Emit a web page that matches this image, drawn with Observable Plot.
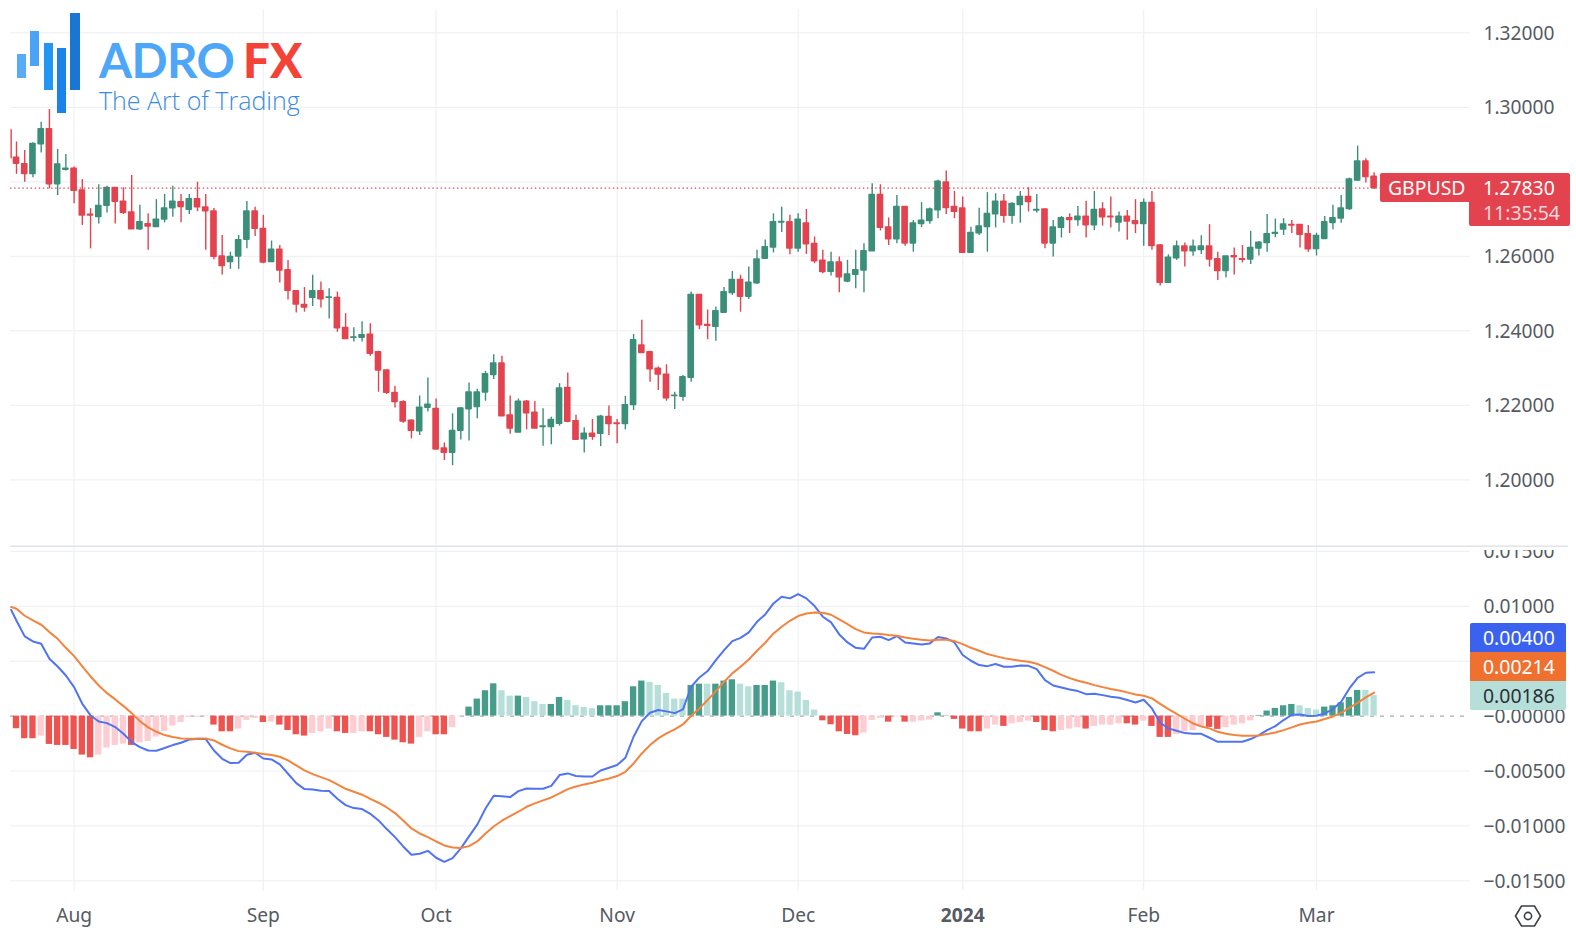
<!DOCTYPE html>
<html><head><meta charset="utf-8">
<script src="https://cdn.jsdelivr.net/npm/d3@7"></script>
<script src="https://cdn.jsdelivr.net/npm/@observablehq/plot@0.6"></script>
<style>
html,body{margin:0;padding:0;background:#fff;overflow:hidden}
#page{position:relative;width:1576px;height:940px;overflow:hidden;font-family:'Noto Sans',sans-serif}
#top,#bottom{position:absolute;left:0}
#top{top:0}#bottom{top:550px}
svg{display:block}
.ov{position:absolute}
.tag{position:absolute;font-size:19.4px;line-height:1;white-space:nowrap}
</style></head><body>
<div id="page"><div id="top"></div><div id="bottom"></div><div id="over"></div></div>
<script>
// GBPUSD daily, prices as 0.0001 units above 1.2000..
const opens=[865,848,820,900,942,793,832,836,777,712,705,735,784,747,718,672,687,678,698,728,746,724,754,732,721,600,584,599,644,721,674,584,618,563,507,470,488,507,488,489,408,381,381,390,343,294,234,209,159,130,193,191,85,72,131,189,195,234,281,313,173,126,210,181,141,141,150,247,158,108,124,123,169,152,149,200,361,343,299,283,224,222,273,497,416,410,448,501,537,491,527,593,623,690,692,620,689,634,589,558,584,532,550,561,613,765,678,645,733,634,686,694,723,799,733,729,609,661,678,712,747,708,737,760,722,726,634,676,703,697,707,683,726,707,690,707,695,686,744,630,528,594,627,613,616,627,593,560,601,593,591,620,635,660,671,685,685,660,619,646,689,701,726,803,855,814];
const closes=[848,820,902,942,793,847,836,775,709,709,736,784,746,716,672,692,679,699,729,747,732,754,731,720,598,573,599,644,721,673,583,618,561,507,470,462,507,484,490,406,377,383,389,338,293,233,208,156,131,194,202,81,72,132,192,235,235,284,313,170,137,210,178,137,144,161,246,155,107,124,115,170,149,149,201,375,340,296,282,218,226,276,497,414,413,453,504,537,491,530,592,625,692,693,620,699,632,586,557,584,543,552,563,614,765,676,645,733,634,689,696,726,801,729,719,609,663,681,714,747,708,741,760,745,725,634,678,703,697,707,683,725,704,704,707,693,686,744,627,528,597,627,613,626,627,591,560,600,597,590,623,637,660,663,686,682,657,618,655,692,703,729,807,855,812,783];
const highs=[907,884,905,960,994,887,873,840,806,728,792,788,784,784,817,737,714,752,766,788,766,766,799,766,728,656,611,656,747,732,710,641,629,589,507,516,549,531,513,504,446,408,424,419,345,295,251,212,161,225,273,217,99,177,194,260,243,291,336,332,225,217,213,210,191,168,258,287,173,140,162,173,198,162,224,390,428,345,303,309,235,280,504,497,456,464,516,559,549,571,616,644,714,732,710,714,726,652,616,611,598,589,616,634,795,792,703,763,733,696,744,730,804,829,774,759,678,729,771,768,766,744,774,784,766,726,696,707,714,734,748,774,744,759,719,723,752,754,774,632,604,641,636,644,655,685,611,600,622,629,667,640,712,700,701,696,685,683,662,707,737,763,810,896,862,824];
const lows=[820,799,811,877,781,763,829,741,683,620,687,716,687,712,672,669,616,677,690,705,690,712,720,616,591,550,565,565,620,653,580,583,528,483,448,450,465,461,432,396,377,370,370,332,235,229,193,152,110,119,182,81,52,38,107,104,164,211,269,170,122,126,134,137,90,94,144,153,107,72,106,89,119,97,134,186,340,262,240,211,189,211,262,403,376,372,448,495,450,484,524,592,609,664,604,611,605,580,553,547,502,529,513,502,613,668,629,634,627,611,677,686,701,712,701,609,609,656,611,676,689,686,689,719,716,620,598,649,661,681,649,669,681,676,665,643,661,627,616,520,528,589,571,600,605,571,535,542,550,582,578,601,611,650,656,661,622,611,601,645,671,689,723,801,797,779];
// partial first bar at the left crop edge (wick only)
const cropIndex=-0.65, cropHigh=940, cropLow=862;

// MACD pane, values in 0.00001 units
const macd=[868,726,680,659,522,452,370,264,112,6,-49,-64,-100,-161,-237,-282,-313,-316,-291,-264,-243,-213,-206,-209,-313,-389,-428,-425,-352,-334,-386,-395,-440,-525,-610,-665,-668,-680,-683,-753,-811,-838,-847,-890,-950,-1029,-1102,-1187,-1263,-1254,-1227,-1290,-1327,-1293,-1205,-1096,-988,-841,-726,-729,-738,-683,-659,-662,-662,-635,-537,-522,-546,-550,-550,-495,-471,-446,-380,-188,-46,30,55,43,27,61,267,352,410,510,601,683,713,762,859,926,1026,1087,1072,1111,1072,1002,905,853,744,671,622,613,716,723,692,729,671,662,653,662,720,707,671,556,504,465,455,474,449,449,461,458,428,328,279,261,243,228,200,203,191,176,167,146,124,149,70,-61,-112,-134,-155,-161,-161,-197,-234,-234,-234,-234,-209,-173,-128,-91,-36,12,15,0,3,24,64,131,252,349,395,400];
const signal=[978,914,871,832,765,704,622,546,452,361,279,209,152,91,27,-46,-103,-143,-173,-191,-203,-206,-206,-203,-222,-261,-294,-319,-325,-334,-346,-355,-370,-404,-449,-495,-528,-556,-583,-622,-662,-689,-716,-753,-789,-832,-883,-950,-1023,-1069,-1102,-1142,-1178,-1196,-1202,-1184,-1142,-1069,-1005,-953,-911,-871,-826,-795,-768,-741,-704,-665,-641,-622,-607,-586,-568,-546,-507,-431,-340,-264,-203,-158,-121,-76,3,70,146,228,313,389,449,516,595,668,753,814,868,911,935,944,941,923,880,838,792,762,753,747,738,732,716,704,695,689,695,695,683,656,622,595,565,546,528,516,504,495,477,446,413,376,346,322,304,282,264,246,234,216,197,185,161,112,64,21,-24,-67,-94,-112,-143,-161,-173,-179,-179,-176,-164,-149,-128,-103,-76,-61,-49,-27,-3,30,76,121,170,214];
const macdStart=968, signalStart=993;
const hist=[-115,-206,-206,-182,-258,-267,-267,-304,-355,-380,-355,-291,-267,-255,-267,-243,-231,-191,-140,-91,-58,-12,-9,-6,-82,-143,-143,-118,-39,-21,-58,-55,-82,-131,-170,-182,-158,-143,-118,-143,-158,-158,-143,-143,-170,-194,-219,-243,-255,-194,-143,-170,-170,-106,-6,82,155,231,294,231,182,182,170,131,106,106,170,143,94,79,67,94,94,94,131,267,319,307,279,206,155,155,279,291,291,291,319,331,291,267,279,279,319,304,231,219,143,55,-43,-79,-143,-167,-179,-155,-39,-21,-55,-6,-55,-55,-45,-36,30,3,-30,-118,-143,-143,-118,-82,-94,-70,-58,-46,-58,-131,-143,-131,-118,-106,-118,-94,-82,-82,-70,-70,-82,-46,-94,-194,-194,-167,-143,-131,-103,-103,-121,-106,-82,-70,-43,6,46,70,94,106,94,70,55,82,94,121,170,234,234,186];
// bar ranges whose histogram shade is strong; the rest are faded
const strongRuns=[[0,2],[4,9],[14,14],[24,26],[30,30],[32,35],[39,40],[43,48],[51,52],[55,58],[61,61],[65,66],[71,76],[82,83],[85,87],[90,92],[98,102],[106,106],[108,108],[112,117],[120,120],[124,126],[130,130],[135,136],[138,140],[145,146],[151,155],[159,163]];

const monthLabels=["Aug","Sep","Oct","Nov","Dec","Feb","Mar"];
const monthBars=[7,30,51,73,95,137,158];
const yearLabel="2024", yearBar=115;
const priceTicks=[1.20,1.22,1.24,1.26,1.28,1.30,1.32];
const priceLabels=[1.20,1.22,1.24,1.26,1.30,1.32];
const macdTicks=[-0.015,-0.01,-0.005,0,0.005,0.01,0.015];
const macdLabels=[-0.015,-0.01,-0.005,0,0.01,0.015];
const lastPrice=1.2783;

for(const a of [opens,closes,highs,lows,macd,signal,hist]) if(a.length!==166) throw new Error("length "+a.length);

const price=v=>1.2+v/1e4;
const bars=d3.range(166).map(i=>({i,open:price(opens[i]),close:price(closes[i]),high:price(highs[i]),low:price(lows[i])}));
const up=bars.filter(d=>d.close>=d.open), down=bars.filter(d=>d.close<d.open);
const RED="#e2434e", GREEN="#3b8f79", GRID="#f0f1f4", TXT="#555a63";
const xScale={domain:[0,165],range:[16,1373.6],axis:null};
const common={width:1576,marginLeft:10,marginRight:106,marginTop:0,style:{background:"transparent",fontFamily:"'Noto Sans',sans-serif",fontSize:"19.2px",color:TXT}};
const hw=0.405;

const allMonths=[...monthBars,yearBar];
const topPlot=Plot.plot({...common,height:550,marginBottom:0,x:xScale,
  y:{domain:[1.2,1.32],range:[479.3,32.3],axis:null},
  marks:[
    Plot.ruleY(priceTicks,{stroke:GRID,strokeWidth:1.2}),
    Plot.ruleX(allMonths,{y1:1.181,y2:1.3262,stroke:GRID,strokeWidth:1.2}),
    Plot.ruleX([cropIndex],{y1:price(cropLow),y2:price(cropHigh),stroke:RED,strokeWidth:1.4}),
    Plot.ruleX(down,{x:"i",y1:"low",y2:"high",stroke:RED,strokeWidth:1.4}),
    Plot.ruleX(up,{x:"i",y1:"low",y2:"high",stroke:GREEN,strokeWidth:1.4}),
    Plot.rect(down,{x1:d=>d.i-hw,x2:d=>d.i+hw,y1:"open",y2:"close",fill:RED,rx:0.8,insetTop:-0.5,insetBottom:-0.5}),
    Plot.rect(up,{x1:d=>d.i-hw,x2:d=>d.i+hw,y1:"open",y2:"close",fill:GREEN,rx:0.8,insetTop:-0.5,insetBottom:-0.5}),
    Plot.ruleY([lastPrice],{x1:-0.72,x2:165.8,stroke:RED,strokeWidth:1.4,strokeDasharray:"1.4,2.7"}),
    Plot.ruleY([1.18217],{stroke:"#e2e3e6",strokeWidth:1.5,x1:-0.72,x2:188.6}),
    Plot.axisY(priceLabels,{anchor:"right",tickSize:0,tickPadding:13,dy:0.7,tickFormat:d3.format(".5f"),label:null})
  ]});
document.getElementById("top").append(topPlot);

const m=v=>v/1e5;
const isStrong=i=>strongRuns.some(([a,b])=>i>=a&&i<=b)?1:0;
const hrows=d3.range(166).map(i=>({i,v:m(hist[i]),s:isStrong(i)}));
const shade=(pos,s)=>hrows.filter(d=>(d.v>=0)===pos&&d.s===s);
const hbar=(rows,fill)=>Plot.rect(rows,{x1:d=>d.i-0.385,x2:d=>d.i+0.385,y1:0,y2:"v",fill});
const macdRows=[{i:cropIndex,v:m(macdStart)},...macd.map((v,i)=>({i,v:m(v)}))];
const sigRows=[{i:cropIndex,v:m(signalStart)},...signal.map((v,i)=>({i,v:m(v)}))];
const fmt=v=>v===0?"\u22120.00000":(v<0?"\u2212":"")+d3.format(".5f")(Math.abs(v));
const axisBase={anchor:"bottom",tickSize:0,tickPadding:4,label:null};
const botPlot=Plot.plot({...common,height:390,marginBottom:36,x:xScale,
  y:{domain:[-0.015,0.015],range:[330.3,0.9],axis:null},
  marks:[
    Plot.ruleY(macdTicks.filter(v=>v!==0),{stroke:GRID,strokeWidth:1.2}),
    Plot.ruleX(allMonths,{y1:-0.0159,y2:0.0152,stroke:GRID,strokeWidth:1.2}),
    Plot.ruleY([0],{stroke:"#a9abb0",strokeWidth:1.1,strokeDasharray:"4,6"}),
    hbar(shade(true,1),"#479d8b"),
    hbar(shade(true,0),"#b7dfd9"),
    hbar(shade(false,1),"#ef5350"),
    hbar(shade(false,0),"#fdcdd2"),
    Plot.line(macdRows,{x:"i",y:"v",stroke:"#4f73f2",strokeWidth:2}),
    Plot.line(sigRows,{x:"i",y:"v",stroke:"#f4833c",strokeWidth:2}),
    Plot.axisY(macdLabels,{anchor:"right",tickSize:0,tickPadding:13,dy:0.7,tickFormat:fmt,label:null}),
    Plot.axisX(monthBars,{...axisBase,tickFormat:d=>monthLabels[monthBars.indexOf(d)]}),
    Plot.axisX([yearBar],{...axisBase,fontWeight:700,tickFormat:()=>yearLabel})
  ]});
document.getElementById("bottom").append(botPlot);

// overlays: price tags, logo, settings glyph
const over=document.getElementById("over");
function box(l,t,w,h,bg){const e=document.createElement("div");e.className="ov";e.style.cssText=`left:${l}px;top:${t}px;width:${w}px;height:${h}px;background:${bg}`;over.append(e);return e;}
function txt(l,t,s,c,extra=""){const e=document.createElement("div");e.className="tag";e.style.cssText=`left:${l}px;top:${t}px;color:${c};${extra}`;e.textContent=s;over.append(e);return e;}
box(1380,173,190,28.7,RED).style.borderRadius="2px";
box(1469,201,101,25,RED).style.borderRadius="0 0 2px 2px";
txt(1388,178,"GBPUSD","#fff");
txt(1483,178,"1.27830","#fff");
txt(1483,203,"11:35:54","#f9d6d8");
box(1470,623.3,96,29,"#3a62ee").style.borderRadius="2px 2px 0 0";
box(1470,652,96,29,"#ef702f");
box(1470,681,96,29,"#b7dfd9").style.borderRadius="0 0 2px 2px";
txt(1483,628,"0.00400","#fff");
txt(1483,657,"0.00214","#fff");
txt(1483,686,"0.00186","#2b2f36");
// logo
box(17,54,8.8,23.7,"#5aabf5");
box(30.3,30.7,9,35,"#4ba3f7");
box(43.7,43.3,9,46.7,"#2196f3");
box(57,48.3,9,64.4,"#1a82e8");
box(70.3,13,9.4,77,"#1976d2");
txt(99,32,"ADRO","#4da6f8","font-family:Lato,sans-serif;font-weight:700;font-size:47.5px;line-height:56px;letter-spacing:-0.6px");
txt(243,32,"FX","#f44336","font-family:Lato,sans-serif;font-weight:900;font-size:47.5px;line-height:56px");
txt(99,85,"The Art of Trading","#3a8be0","font-family:'Open Sans',sans-serif;font-weight:300;font-size:25px;line-height:30px");
// settings glyph
const ns="http://www.w3.org/2000/svg";
const g=document.createElementNS(ns,"svg");g.setAttribute("width",30);g.setAttribute("height",26);g.style.cssText="position:absolute;left:1513px;top:903px";
g.innerHTML='<path d="M2.5 13 L8.5 3 H21.5 L27.5 13 L21.5 23 H8.5 Z" fill="none" stroke="#3b3f46" stroke-width="1.6"/><circle cx="15" cy="13" r="3.6" fill="none" stroke="#3b3f46" stroke-width="1.6"/>';
over.append(g);
</script></body></html>
